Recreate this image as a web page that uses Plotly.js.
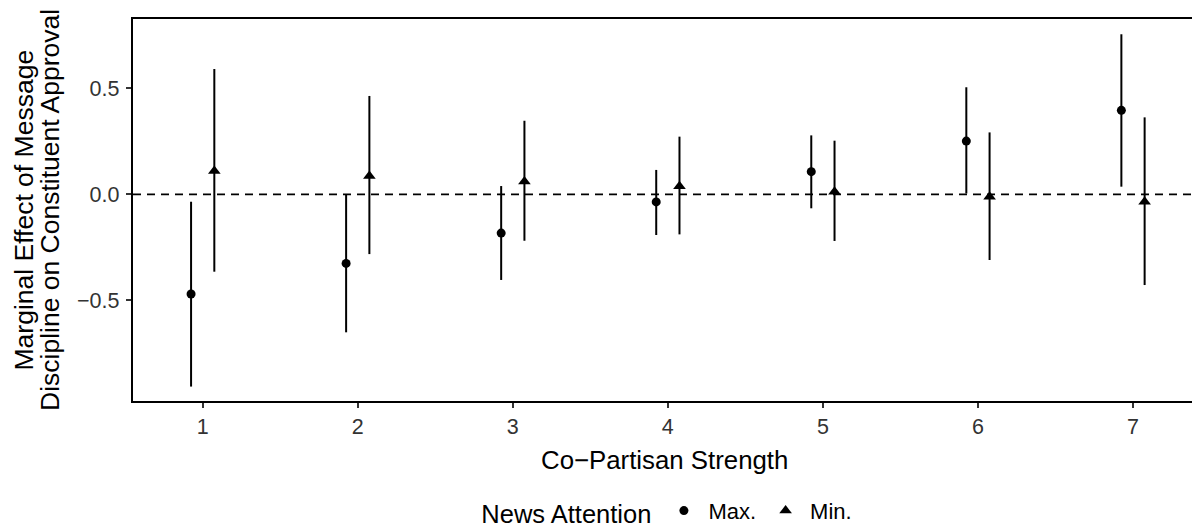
<!DOCTYPE html>
<html>
<head>
<meta charset="utf-8">
<script src="https://cdn.plot.ly/plotly-3.0.1.min.js"></script>
<style>
  html, body { margin: 0; padding: 0; background: #ffffff; }
  #chart { width: 1192px; height: 531px; }
</style>
</head>
<body>
<div id="chart"></div>
<script>
// ---- Data ----
const strength = [1, 2, 3, 4, 5, 6, 7];
const xTickLabels = ["1", "2", "3", "4", "5", "6", "7"];
const yTickVals = [-0.5, 0, 0.5];
const yTickLabels = ["\u22120.5", "0.0", "0.5"];

// News Attention = Max.
const maxEst = [-0.470, -0.326, -0.183, -0.036, 0.107, 0.251, 0.396];
const maxLo  = [-0.907, -0.651, -0.404, -0.192, -0.066, 0.004, 0.036];
const maxHi  = [-0.035, -0.003, 0.039, 0.115, 0.278, 0.505, 0.755];

// News Attention = Min.
const minEst = [0.110, 0.086, 0.061, 0.038, 0.012, -0.011, -0.035];
const minLo  = [-0.365, -0.282, -0.219, -0.189, -0.220, -0.310, -0.428];
const minHi  = [0.591, 0.464, 0.347, 0.272, 0.253, 0.292, 0.363];

const seriesNames = ["Max.", "Min."];

// ---- Build traces ----
const FONT = "Liberation Sans, Arial, Helvetica, sans-serif";
const dodge = 0.075;

function mkTrace(name, est, lo, hi, offset, symbol, size) {
  return {
    type: "scatter",
    mode: "markers",
    name: name,
    x: strength.map(v => v + offset),
    y: est,
    marker: { symbol: symbol, size: size, color: "#000000", line: { width: 0 } },
    error_y: {
      type: "data",
      symmetric: false,
      array: hi.map((h, i) => h - est[i]),
      arrayminus: lo.map((l, i) => est[i] - l),
      color: "#000000",
      thickness: 2,
      width: 0
    },
    hoverinfo: "x+y"
  };
}

const traces = [
  mkTrace(seriesNames[0], maxEst, maxLo, maxHi, -dodge, "circle", 9),
  mkTrace(seriesNames[1], minEst, minLo, minHi, dodge, "triangle-up", 11)
];

const layout = {
  width: 1192,
  height: 531,
  margin: { l: 133, r: 0, t: 19, b: 130, pad: 0, autoexpand: false },
  paper_bgcolor: "#ffffff",
  plot_bgcolor: "#ffffff",
  font: { family: FONT, color: "#000000" },
  showlegend: true,
  xaxis: {
    range: [0.5505, 7.3805],
    tickmode: "array",
    tickvals: strength,
    ticktext: xTickLabels,
    showgrid: false,
    zeroline: false,
    showline: true,
    mirror: true,
    linecolor: "#000000",
    linewidth: 2.2,
    ticks: "outside",
    ticklen: 5,
    tickwidth: 2,
    tickcolor: "#333333",
    tickfont: { family: FONT, size: 21.5, color: "#333333" },
    automargin: false
  },
  yaxis: {
    range: [-0.975, 0.827],
    tickmode: "array",
    tickvals: yTickVals,
    ticktext: yTickLabels,
    showgrid: false,
    zeroline: false,
    showline: true,
    mirror: false,
    linecolor: "#000000",
    linewidth: 2.2,
    ticks: "outside",
    ticklen: 5,
    tickwidth: 2,
    tickcolor: "#333333",
    ticklabelstandoff: 2,
    tickfont: { family: FONT, size: 21.5, color: "#333333" },
    automargin: false
  },
  shapes: [{
    type: "line",
    xref: "paper", yref: "y",
    x0: 0, x1: 1, y0: 0, y1: 0,
    line: { color: "#000000", width: 1.8, dash: "8px,6px" },
    layer: "below"
  }],
  annotations: [
    {
      text: "Co\u2212Partisan Strength",
      xref: "paper", yref: "paper",
      x: 0.502, y: -0.1545,
      xanchor: "center", yanchor: "middle",
      showarrow: false,
      font: { family: FONT, size: 25.8, color: "#000000" }
    },
    {
      text: "Marginal Effect of Message",
      xref: "paper", yref: "paper",
      x: (23.5 - 133) / 1059, y: 0.5,
      xanchor: "center", yanchor: "middle",
      textangle: -90,
      showarrow: false,
      font: { family: FONT, size: 26.5, color: "#000000" }
    },
    {
      text: "Discipline on Constituent Approval",
      xref: "paper", yref: "paper",
      x: (50 - 133) / 1059, y: 0.5,
      xanchor: "center", yanchor: "middle",
      textangle: -90,
      showarrow: false,
      font: { family: FONT, size: 26.5, color: "#000000" }
    }
  ],
  legend: {
    orientation: "h",
    xref: "paper", yref: "paper",
    x: 0.327, y: -0.290,
    xanchor: "left", yanchor: "middle",
    bgcolor: "rgba(0,0,0,0)",
    borderwidth: 0,
    font: { family: FONT, size: 22, color: "#000000" },
    title: { text: "News Attention", side: "left", font: { family: FONT, size: 25.5, color: "#000000" } },
    itemwidth: 39,
    traceorder: "normal"
  }
};

Plotly.newPlot("chart", traces, layout, { displayModeBar: false, staticPlot: true });
</script>
</body>
</html>
